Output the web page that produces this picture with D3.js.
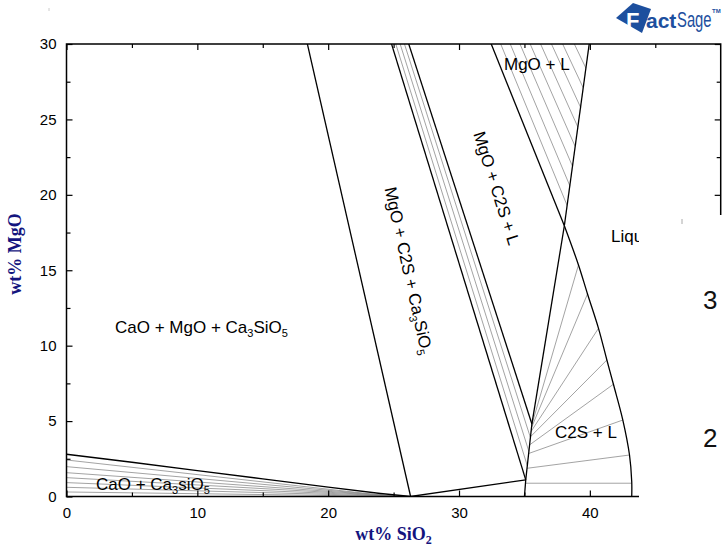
<!DOCTYPE html>
<html><head><meta charset="utf-8">
<script src="https://cdn.jsdelivr.net/npm/d3@7/dist/d3.min.js"></script>
<style>html,body{margin:0;padding:0;background:#fff}svg{display:block}</style>
</head><body>
<svg id="chart" width="722" height="548"></svg>
<script>
// ---------------- data: [wt% SiO2, wt% MgO] ----------------
const xMajorTicks = [0, 10, 20, 30, 40];
const xMinorTicks = [5, 15, 25, 35, 45];
const yMajorTicks = [0, 5, 10, 15, 20, 25, 30];
const yMinorTicks = [2.5, 7.5, 12.5, 17.5, 22.5, 27.5];

const MgO = [0, 100];          // MgO corner (off chart)
const C3S = [26.3, 0];
const P   = [35.1, 1.1];       // C2S ss, MgO-poor end
const Q   = [35.57, 4.81];     // C2S ss, MgO-rich end
const L1  = [38.05, 17.95];    // liquid of MgO + C2S + L

const mgoRays = [C3S, P, Q, L1];   // boundaries radiating from the MgO corner
const caoC3sBoundary = [[0, 2.8], [5, 2.27], [10, 1.72], [15, 1.17], [20, 0.62], [24, 0.2], [26.3, 0]];
const c3sC2sEdge = [[26.3, 0], [35.1, 1.1]];
const c2sSolidus = [[35.0, 0], [35.1, 1.1], [35.57, 4.81]];
const mgoLiquidus = [[39.95, 30], [38.05, 17.95]];
const c2sLEdge = [[38.05, 17.95], [35.57, 4.81]];
const c2sLiquidus = [[38.05, 17.95], [39.13, 15.35], [39.82, 13.43], [40.66, 11.15], [41.30, 9.05],
                     [41.80, 7.44], [42.52, 5.07], [43.03, 2.75], [43.2, 1.0], [43.2, 0]];

const caoC3sTies = [[[0, 2.42], [25.0, 0]], [[0, 1.98], [25.3, 0]], [[0, 1.58], [25.6, 0]],
                    [[0, 1.25], [25.8, 0]], [[0, 0.92], [26.0, 0]], [[0, 0.61], [26.1, 0]], [[0, 0.30], [26.2, 0]]];
const mgoC2sTieEnds = [[35.22, 2.04], [35.34, 2.99], [35.45, 3.93]];
const mgoLTieEnds = [[38.26, 19.3], [38.47, 20.6], [38.67, 21.9], [38.88, 23.2],
                     [39.08, 24.5], [39.29, 25.8], [39.49, 27.1], [39.70, 28.4]];
const c2sLTies = [[[35.08, 0.88], [43.2, 0.88]], [[35.2, 1.87], [43.03, 2.75]], [[35.32, 2.85], [42.52, 5.07]],
                  [[35.39, 3.42], [41.80, 7.44]], [[35.45, 3.95], [41.30, 9.05]], [[35.5, 4.3], [40.66, 11.15]],
                  [[35.53, 4.55], [39.82, 13.43]], [[35.55, 4.72], [39.13, 15.35]]];

// ---------------- drawing ----------------
const svg = d3.select('#chart');
const x = d3.scaleLinear().domain([0, 50]).range([66.5, 720.7]);
const y = d3.scaleLinear().domain([0, 30]).range([496.5, 44]);
const line = d3.line().x(d => x(d[0])).y(d => y(d[1]));
const curve = d3.line().x(d => x(d[0])).y(d => y(d[1])).curve(d3.curveCatmullRom);

svg.append('defs').append('clipPath').attr('id', 'plot').append('rect')
  .attr('x', x(0)).attr('y', y(30)).attr('width', x(50) - x(0)).attr('height', y(0) - y(30));

const g = svg.append('g').attr('clip-path', 'url(#plot)');
function tie(pts) {
  g.append('path').attr('d', line(pts)).attr('fill', 'none').attr('stroke', '#8c8c8c').attr('stroke-width', 0.8);
}
function bound(pts, gen) {
  g.append('path').attr('d', (gen || line)(pts)).attr('fill', 'none').attr('stroke', '#000').attr('stroke-width', 1.3);
}
caoC3sTies.forEach(tie);
mgoC2sTieEnds.forEach(e => tie([MgO, e]));
mgoLTieEnds.forEach(e => tie([MgO, e]));
c2sLTies.forEach(tie);

mgoRays.forEach(e => bound([MgO, e]));
bound(caoC3sBoundary);
bound(c3sC2sEdge);
bound(c2sSolidus);
bound(mgoLiquidus);
bound(c2sLEdge);
bound(c2sLiquidus, curve);

// frame
svg.append('rect').attr('x', x(0)).attr('y', y(30)).attr('width', x(50) - x(0)).attr('height', y(0) - y(30))
  .attr('fill', 'none').attr('stroke', '#000').attr('stroke-width', 1.5);

function styleAxis(sel) {
  sel.select('.domain').remove();
  sel.selectAll('line').attr('stroke', '#000').attr('stroke-width', 1.2);
  sel.selectAll('text').attr('font-family', 'Liberation Sans, Arial, sans-serif').attr('font-size', 15).attr('fill', '#000');
}
svg.append('g').attr('transform', `translate(0,${y(0)})`)
  .call(d3.axisBottom(x).tickValues(xMajorTicks).tickSize(-6).tickPadding(11)).call(styleAxis);
svg.append('g').attr('transform', `translate(0,${y(0)})`)
  .call(d3.axisBottom(x).tickValues(xMinorTicks).tickSize(-4).tickFormat('')).call(styleAxis);
svg.append('g').attr('transform', `translate(0,${y(30)})`)
  .call(d3.axisTop(x).tickValues(xMajorTicks).tickSize(-6).tickFormat('')).call(styleAxis);
svg.append('g').attr('transform', `translate(0,${y(30)})`)
  .call(d3.axisTop(x).tickValues(xMinorTicks).tickSize(-4).tickFormat('')).call(styleAxis);
svg.append('g').attr('transform', `translate(${x(0)},0)`)
  .call(d3.axisLeft(y).tickValues(yMajorTicks).tickSize(-6).tickPadding(10)).call(styleAxis);
svg.append('g').attr('transform', `translate(${x(0)},0)`)
  .call(d3.axisLeft(y).tickValues(yMinorTicks).tickSize(-4).tickFormat('')).call(styleAxis);
svg.append('g').attr('transform', `translate(${x(50)},0)`)
  .call(d3.axisRight(y).tickValues(yMajorTicks).tickSize(-6).tickFormat('')).call(styleAxis);
svg.append('g').attr('transform', `translate(${x(50)},0)`)
  .call(d3.axisRight(y).tickValues(yMinorTicks).tickSize(-4).tickFormat('')).call(styleAxis);
// remove empty tick texts of unlabeled axes
svg.selectAll('.tick text').filter(function () { return !this.textContent; }).remove();

// axis titles
const titleFont = 'Liberation Serif, Times New Roman, serif';
const xt = svg.append('text').attr('x', (x(0) + x(50)) / 2).attr('y', 540).attr('text-anchor', 'middle')
  .attr('font-family', titleFont).attr('font-weight', 'bold').attr('font-size', 18).attr('fill', '#14147e');
xt.append('tspan').text('wt% SiO');
xt.append('tspan').attr('font-size', 12).attr('dy', 4).text('2');
svg.append('text').attr('transform', 'translate(21,254) rotate(-90)').attr('text-anchor', 'middle')
  .attr('font-family', titleFont).attr('font-weight', 'bold').attr('font-size', 18).attr('fill', '#14147e')
  .text('wt% MgO');

// phase labels
const labFont = 'Liberation Sans, Arial, sans-serif';
function label(parts, attrs) {
  const t = svg.append('text').attr('font-family', labFont).attr('font-size', 17).attr('fill', '#000');
  Object.entries(attrs).forEach(([k, v]) => t.attr(k, v));
  let lowered = false;
  parts.forEach(p => {
    if (typeof p === 'string') {
      const s = t.append('tspan').text(p);
      if (lowered) { s.attr('dy', -4); lowered = false; }
    } else {
      t.append('tspan').attr('font-size', 11).attr('dy', 4).text(p.sub);
      lowered = true;
    }
  });
  return t;
}
label(['CaO + MgO + Ca', {sub: '3'}, 'SiO', {sub: '5'}], {x: 115, y: 333});
label(['CaO + Ca', {sub: '3'}, 'siO', {sub: '5'}], {x: 96, y: 490});
label(['MgO + C2S + Ca', {sub: '3'}, 'SiO', {sub: '5'}], {transform: 'translate(403,272) rotate(77.5)', 'text-anchor': 'middle'});
label(['MgO + C2S + L'], {transform: 'translate(491,190) rotate(72.5)', 'text-anchor': 'middle'});
label(['MgO + L'], {x: 504, y: 69.5});
label(['C2S + L'], {x: 555, y: 438});
label(['Liquid'], {x: 611, y: 242});

// overlapping white panel at the right
svg.append('rect').attr('x', 639).attr('y', 215).attr('width', 83).attr('height', 333).attr('fill', '#fff');
svg.append('text').attr('x', 703).attr('y', 309).attr('font-family', labFont).attr('font-size', 26).attr('fill', '#111').text('3');
svg.append('text').attr('x', 703).attr('y', 447).attr('font-family', labFont).attr('font-size', 26).attr('fill', '#111').text('2');
svg.append('line').attr('x1', 682).attr('x2', 682).attr('y1', 219).attr('y2', 224).attr('stroke', '#aaa').attr('stroke-width', 1);
svg.append('line').attr('x1', 49).attr('x2', 49).attr('y1', 8).attr('y2', 11).attr('stroke', '#ccc').attr('stroke-width', 1);

// FactSage logo
const blue = '#1d4f9e';
const logo = svg.append('g');
logo.append('path').attr('d', 'M616,18 L633,3 L651,9 L642,33 Z').attr('fill', blue);
logo.append('text').attr('x', 626).attr('y', 28).attr('font-family', labFont).attr('font-weight', 'bold')
  .attr('font-size', 22).attr('fill', '#fff').text('F');
logo.append('text').attr('x', 646).attr('y', 28).attr('font-family', labFont).attr('font-weight', 'bold')
  .attr('font-size', 21).attr('fill', blue).text('act');
logo.append('text').attr('transform', 'translate(677,27) scale(0.78,1.12)').attr('font-family', labFont)
  .attr('font-size', 19).attr('fill', blue).text('Sage');
logo.append('text').attr('x', 712).attr('y', 13).attr('font-family', labFont).attr('font-weight', 'bold')
  .attr('font-size', 6).attr('fill', blue).text('TM');
</script>
</body></html>
